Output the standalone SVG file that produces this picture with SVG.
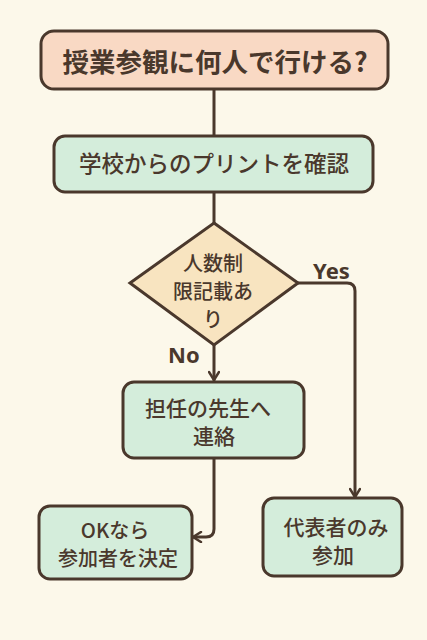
<svg xmlns="http://www.w3.org/2000/svg" width="427" height="640" viewBox="0 0 427 640">
<defs>
<style>
.box{stroke:#4a382c;stroke-width:3}
.peach{fill:#f9d9c4}
.mint{fill:#d4eddb}
.dia{fill:#f8e4c0}
.t{font-family:"Noto Sans CJK JP","Noto Sans",sans-serif;fill:#4a382c;text-anchor:middle;font-weight:500}
.b{font-weight:700}
.lab{font-family:"Noto Sans","Liberation Sans",sans-serif;fill:#4a382c;font-weight:700;font-size:22px}
.c{fill:none;stroke:#4a382c;stroke-width:3;stroke-linejoin:round;stroke-linecap:round}
</style>
<marker id="arr" viewBox="0 0 12 12" refX="10" refY="6" markerWidth="12" markerHeight="12" markerUnits="userSpaceOnUse" orient="auto">
<path d="M2,1 L10,6 L2,11" fill="none" stroke="#4a382c" stroke-width="2.5" stroke-linecap="round" stroke-linejoin="round"/>
</marker>
</defs>
<rect width="427" height="640" fill="#fcf8ea"/>
<g id="connectors">
<line class="c" x1="214" y1="89" x2="214" y2="136"/>
<line class="c" x1="214" y1="192" x2="214" y2="223"/>
<path class="c" d="M214,345 V380" marker-end="url(#arr)"/>
<path class="c" d="M298,283 H347 Q355,283 355,291 V497" marker-end="url(#arr)"/>
<path class="c" d="M214,458 V529 Q214,537 206,537 H193" marker-end="url(#arr)"/>
</g>
<g id="start">
<rect class="box peach" x="41" y="31" width="347" height="58" rx="13"/>
<text class="t b" x="215" y="72" font-size="26.5">授業参観に何人で行ける?</text>
</g>
<g id="check">
<rect class="box mint" x="54" y="136" width="319" height="56" rx="11"/>
<text class="t" x="214" y="172" font-size="22.5">学校からのプリントを確認</text>
</g>
<g id="decision">
<polygon class="box dia" points="214,223 298,283 214,345 130,283"/>
<text class="t" x="213" y="271" font-size="20">人数制</text>
<text class="t" x="213" y="299" font-size="20">限記載あ</text>
<text class="t" x="213" y="327" font-size="20">り</text>
</g>
<text class="lab" x="313" y="279">Yes</text>
<text class="lab" x="168" y="363">No</text>
<g id="teacher">
<rect class="box mint" x="123" y="382" width="181" height="76" rx="11"/>
<text class="t" x="208" y="416" font-size="21">担任の先生へ</text>
<text class="t" x="214" y="444" font-size="21">連絡</text>
</g>
<g id="ok">
<rect class="box mint" x="39" y="506" width="153" height="73" rx="11"/>
<text class="t" x="115" y="538" font-size="20">OKなら</text>
<text class="t" x="118" y="566" font-size="20">参加者を決定</text>
</g>
<g id="rep">
<rect class="box mint" x="263" y="498" width="139" height="78" rx="11"/>
<text class="t" x="336" y="535" font-size="21">代表者のみ</text>
<text class="t" x="333" y="563" font-size="21">参加</text>
</g>
</svg>
